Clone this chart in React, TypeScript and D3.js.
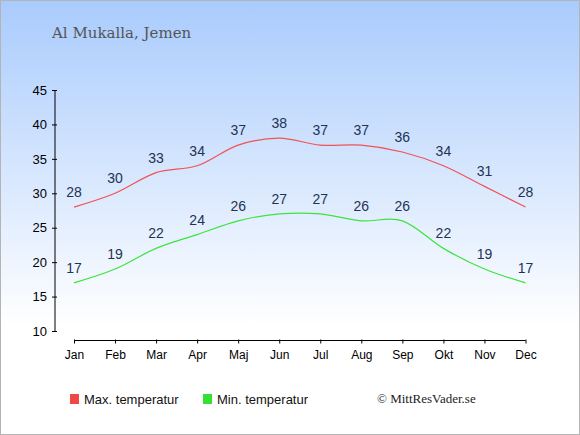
import { useEffect, useRef } from 'react';
import * as d3 from 'd3';

const months = ['Jan', 'Feb', 'Mar', 'Apr', 'Maj', 'Jun', 'Jul', 'Aug', 'Sep', 'Okt', 'Nov', 'Dec'];
const maxTemp = [28, 30, 33, 34, 37, 38, 37, 37, 36, 34, 31, 28];
const minTemp = [17, 19, 22, 24, 26, 27, 27, 26, 26, 22, 19, 17];
const yTicks = [10, 15, 20, 25, 30, 35, 40, 45];

const W = 580;
const H = 435;

export default function App() {
  const svgRef = useRef<SVGSVGElement>(null);

  useEffect(() => {
    document.body.style.margin = '0';
    const svg = d3.select(svgRef.current);
    svg.selectAll('*').remove();

    // background
    const defs = svg.append('defs');
    const grad = defs.append('linearGradient')
      .attr('id', 'bg-grad')
      .attr('x1', '0%').attr('y1', '0%')
      .attr('x2', '0%').attr('y2', '100%');
    grad.append('stop').attr('offset', '0%').attr('stop-color', '#a9cbfd');
    grad.append('stop').attr('offset', '75%').attr('stop-color', '#ffffff');
    grad.append('stop').attr('offset', '100%').attr('stop-color', '#ffffff');

    svg.append('rect')
      .attr('x', 0.5).attr('y', 0.5)
      .attr('width', W - 1).attr('height', H - 1)
      .attr('fill', 'url(#bg-grad)')
      .attr('stroke', '#b4b4b4');

    const x = d3.scalePoint<string>().domain(months).range([74, 525.5]);
    const y = d3.scaleLinear().domain([10, 45]).range([331, 90]);

    // title
    svg.append('text')
      .attr('x', 52).attr('y', 38)
      .style('font-family', 'Georgia, "DejaVu Serif", serif')
      .style('font-size', '15px')
      .style('fill', '#555')
      .text('Al Mukalla, Jemen');

    // y axis
    const yAxis = svg.append('g')
      .attr('transform', 'translate(55,0)')
      .call(d3.axisLeft(y).tickValues(yTicks).tickSize(3).tickPadding(5));
    yAxis.select('.domain').attr('d', `M0,${y(45)}V${y(10)}`).attr('stroke', '#000');
    yAxis.selectAll('.tick line').attr('x1', 2).attr('x2', -3).attr('stroke', '#000');
    yAxis.selectAll('text')
      .style('font-family', 'Arial, "Liberation Sans", sans-serif')
      .style('font-size', '13px')
      .style('fill', '#000');

    // x axis
    const xAxis = svg.append('g')
      .attr('transform', 'translate(0,340.5)')
      .call(d3.axisBottom(x).tickSize(4).tickPadding(6));
    xAxis.select('.domain').attr('d', `M${x('Jan')},0H${x('Dec')}`).attr('stroke', '#000');
    xAxis.selectAll('.tick line').attr('y1', -1).attr('y2', 3).attr('stroke', '#000');
    xAxis.selectAll('text')
      .style('font-family', 'Arial, "Liberation Sans", sans-serif')
      .style('font-size', '12px')
      .style('fill', '#000');

    const line = d3.line<number>()
      .x((_, i) => x(months[i]) as number)
      .y(d => y(d))
      .curve(d3.curveCardinal.tension(0));

    const series = [
      { values: maxTemp, color: '#f25252' },
      { values: minTemp, color: '#3de43d' },
    ];

    series.forEach(s => {
      svg.append('path')
        .datum(s.values)
        .attr('fill', 'none')
        .attr('stroke', s.color)
        .attr('stroke-width', 1.2)
        .attr('d', line);

      svg.append('g')
        .selectAll('text')
        .data(s.values)
        .enter().append('text')
        .attr('x', (_, i) => x(months[i]) as number)
        .attr('y', d => y(d) - 10)
        .attr('text-anchor', 'middle')
        .style('font-family', 'Arial, "Liberation Sans", sans-serif')
        .style('font-size', '14px')
        .style('fill', '#1f3355')
        .text(d => d);
    });

    // legend
    const legend = [
      { label: 'Max. temperatur', color: '#f04848', x: 70 },
      { label: 'Min. temperatur', color: '#33e033', x: 203 },
    ];
    legend.forEach(l => {
      svg.append('rect')
        .attr('x', l.x).attr('y', 394)
        .attr('width', 9).attr('height', 10)
        .attr('fill', l.color);
      svg.append('text')
        .attr('x', l.x + 14).attr('y', 403.5)
        .style('font-family', 'Arial, "Liberation Sans", sans-serif')
        .style('font-size', '13px')
        .style('fill', '#111')
        .text(l.label);
    });

    svg.append('text')
      .attr('x', 377).attr('y', 403)
      .style('font-family', '"Liberation Serif", "Times New Roman", serif')
      .style('font-size', '13px')
      .style('fill', '#222')
      .text('© MittResVader.se');
  }, []);

  return <svg ref={svgRef} width={W} height={H} style={{ display: 'block' }} />;
}
